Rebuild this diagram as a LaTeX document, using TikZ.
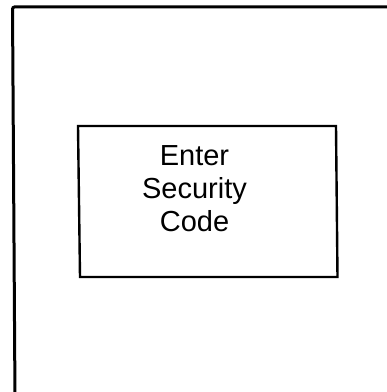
\documentclass[tikz,border=0pt]{standalone}
\usepackage{fontspec}
\setmainfont{Liberation Sans}
\usepackage{tikz}

\begin{document}
\begin{tikzpicture}[x=1pt,y=1pt]
	\useasboundingbox (0,0) rectangle (387,392);

	\coordinate (frameEnd) at (395,385);
	\coordinate (frameCorner) at (12.5,385);
	\coordinate (frameFoot) at (15,-8);
	\draw[line width=3pt, rounded corners=2pt] (frameEnd) -- (frameCorner) -- (frameFoot);

	\coordinate (a) at (78,266);
	\coordinate (b) at (336,266);
	\coordinate (c) at (337.5,115);
	\coordinate (d) at (80,115);
	\draw[line width=2.4pt] (a) -- (b) -- (c) -- (d) -- cycle;

	\node[align=center, font=\fontsize{29}{33}\selectfont, inner sep=0pt] (prompt) at (194.5,203) {Enter\\Security\\Code};
\end{tikzpicture}
\end{document}
